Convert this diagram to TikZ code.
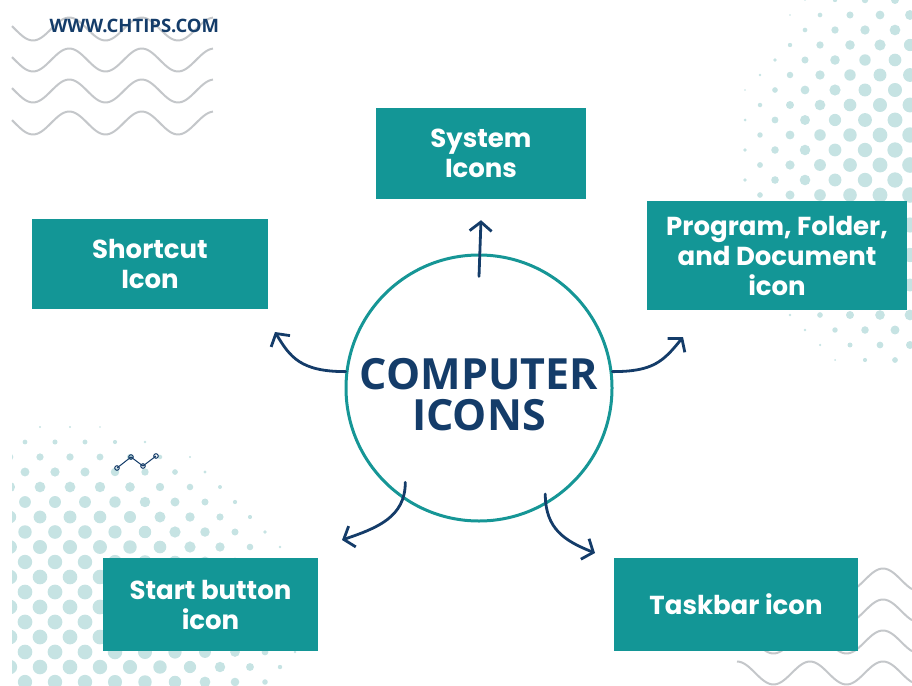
\documentclass[tikz,border=0pt]{standalone}
\usepackage{fontspec}
\usepackage{tikz}
\usetikzlibrary{positioning, calc, arrows.meta}
\newfontfamily\boxfont{Poppins}
\newfontfamily\titlefont{Open Sans}
\definecolor{boxteal}{RGB}{19,150,150}
\definecolor{ringteal}{RGB}{22,150,150}
\definecolor{navy}{RGB}{20,60,105}
\definecolor{wavegray}{RGB}{196,199,202}
\definecolor{dotteal}{RGB}{198,227,227}
\tikzset{>=latex}

\begin{document}
\begin{tikzpicture}[x=1pt,y=-1pt,
    iconbox/.style={rectangle,fill=boxteal,text=white,align=center,inner sep=0pt,
        font=\boxfont\bfseries\fontsize{26}{30}\selectfont},
    link/.style={draw=navy,line width=2.8pt,line cap=round,
        -{Straight Barb[length=9pt,width=22pt,line width=2.8pt]}},
    wave/.style={draw=wavegray,line width=2pt},
    dot/.style={fill=dotteal}]
    \useasboundingbox (0,0) rectangle (912,685);
    % halftone dots
    \foreach \row in {0,...,24}{
        \foreach \col in {0,...,6}{
            \pgfmathsetmacro\dx{745+30*\col+15*mod(\row,2)}
            \pgfmathsetmacro\dy{15*\row}
            \pgfmathsetmacro\dr{8*(1-(veclen(\dx-960,\dy-170)/240)^2.5)}
            \ifdim\dr pt>0.8pt \fill[dot] (\dx,\dy) circle (\dr pt); \fi
        }
    }
    \begin{scope}
        \clip (12,420) rectangle (330,685);
        \foreach \row in {0,...,17}{
            \foreach \col in {0,...,9}{
                \pgfmathsetmacro\dx{10+30*\col+15*mod(\row,2)}
                \pgfmathsetmacro\dy{427+15*\row}
                \pgfmathsetmacro\dr{7.4*(1-(veclen((\dx-60)/1.25,\dy-620)/205)^3)}
                \ifdim\dr pt>0.8pt \fill[dot] (\dx,\dy) circle (\dr pt); \fi
            }
        }
    \end{scope}
    % waves
    \foreach \yo in {29,60,91,123}
        \draw[wave] plot[domain=12:213,samples=90] (\x,{\yo+11.5*cos(4.9655*(\x-33))});
    \foreach \yo in {580,611,642,673}
        \draw[wave] plot[domain=737:912,samples=80] (\x,{\yo-11.5*cos(4.9315*(\x-883))});
    % small chart
    \draw[navy,line width=1pt] (117,468) circle (2.3pt) -- (131,457) circle (2.3pt)
        -- (143,466) circle (2.3pt) -- (156,456) circle (2.3pt);

    \node[anchor=base west,text=navy,font=\titlefont\bfseries\fontsize{18.5}{20}\selectfont]
        (site) at (46,33) {WWW.CHTIPS.COM};

    \node[circle,draw=ringteal,line width=3pt,minimum size=266pt] (hub) at (479,388) {};
    \node[text=navy,align=center,font=\titlefont\bfseries\fontsize{43}{41}\selectfont]
        (title) at ([yshift=-7pt]hub.center) {COMPUTER\\ICONS};

    \node[iconbox,minimum width=210pt,minimum height=91pt] (sys) at (481,153.5) {System\\Icons};
    \node[iconbox,minimum width=236pt,minimum height=90pt] (sc) at (150,264) {Shortcut\\Icon};
    \node[iconbox,minimum width=260pt,minimum height=109pt] (prog) at (777,255.5)
        {Program, Folder,\\and Document\\icon};
    \node[iconbox,minimum width=215pt,minimum height=93pt] (start) at (210.5,604.5) {Start button\\icon};
    \node[iconbox,minimum width=244pt,minimum height=93pt] (task) at (736,604.5) {Taskbar icon};

    \coordinate (sc-end) at (275,332);
    \coordinate (prog-end) at (683,337);
    \coordinate (start-end) at (342,540);
    \coordinate (task-end) at (595,553);

    \draw[link] ($(hub.center)!0.83!(hub.north)$) -- ([yshift=-21pt]sys.south);
    \draw[link] (hub.173) .. controls +(-45,0) and +(15,25) .. (sc-end);
    \draw[link] (hub.7) .. controls +(40,0) and +(-20,25) .. (prog-end);
    \draw[link] ($(hub.center)!0.89!(hub.232)$) .. controls +(0,35) and +(35,-12) .. (start-end);
    \draw[link] ($(hub.center)!0.93!(hub.302)$) .. controls +(0,35) and +(-30,-12) .. (task-end);
\end{tikzpicture}
\end{document}
